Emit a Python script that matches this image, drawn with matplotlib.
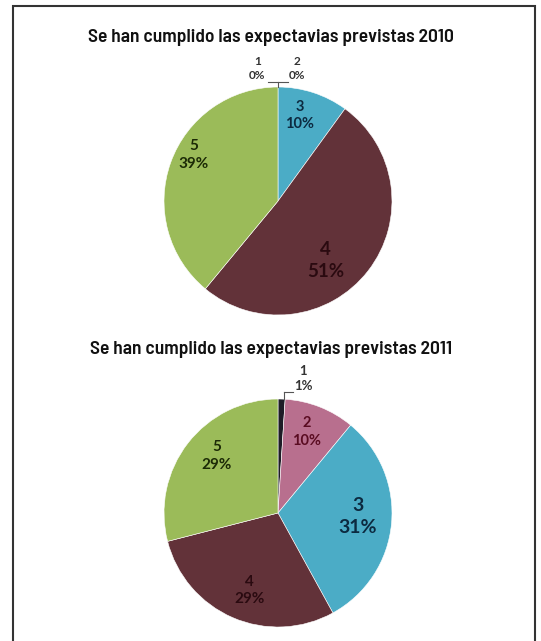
import matplotlib.pyplot as plt
from matplotlib.patches import Rectangle
from matplotlib.lines import Line2D

# datos
cats = ['1', '2', '3', '4', '5']
vals_2010 = [0, 0, 10, 51, 39]
vals_2011 = [1, 10, 31, 29, 29]
titles = ['Se han cumplido las expectavias previstas 2010',
          'Se han cumplido las expectavias previstas 2011']

colors = ['#1d1c26', '#b86f8e', '#4bacc6', '#623239', '#9bbb59']
txt_2010 = ['#333333', '#333333', '#0c2a40', '#2a0a10', '#1c2a06']
txt_2011 = ['#333333', '#5a0c22', '#0c2a40', '#2a0a10', '#1c2a06']

W, H = 541, 641
fig = plt.figure(figsize=(W / 100, H / 100), dpi=100)

def px_axes(cx, cy, r):
    return fig.add_axes([(cx - r) / W, (H - cy - r) / H, 2 * r / W, 2 * r / H])

def draw_pie(ax, vals, lab_pos, lab_size, tcol):
    ax.pie(vals, colors=colors, startangle=90, counterclock=False,
           wedgeprops=dict(edgecolor='white', linewidth=0.4))
    ax.set_xlim(-1, 1)
    ax.set_ylim(-1, 1)
    for i, v in enumerate(vals):
        x, y = lab_pos[i]
        ax.text(x, y, '%s\n%d%%' % (cats[i], v), ha='center', va='center',
                fontsize=lab_size[i], fontweight='bold', color=tcol[i],
                family=['Lato', 'DejaVu Sans'], linespacing=1.35, clip_on=False)

# 2010
ax1 = px_axes(278, 201, 114)
draw_pie(ax1, vals_2010,
         [(-0.18, 1.16), (0.17, 1.16), (0.19, 0.75), (0.42, -0.52), (-0.74, 0.40)],
         [8.5, 8.5, 10.5, 13.5, 11], txt_2010)
ax1.add_line(Line2D([-0.09, 0.09], [1.04, 1.04], color='#555555', lw=0.8, clip_on=False))
ax1.add_line(Line2D([0, 0], [1.04, 1.0], color='#555555', lw=0.8, clip_on=False))

# 2011
ax2 = px_axes(278, 513, 114)
draw_pie(ax2, vals_2011,
         [(0.22, 1.18), (0.25, 0.71), (0.70, -0.03), (-0.25, -0.68), (-0.54, 0.50)],
         [9.5, 10.5, 14, 11, 11], txt_2011)
ax2.add_line(Line2D([0.05, 0.13], [1.06, 1.06], color='#555555', lw=0.8, clip_on=False))
ax2.add_line(Line2D([0.05, 0.05], [1.06, 1.0], color='#555555', lw=0.8, clip_on=False))

for t, y in zip(titles, [38, 350]):
    fig.text(271 / W, 1 - y / H, t, ha='center', va='center', fontsize=14,
             fontweight=600, color='#111111',
             family=['Barlow Semi Condensed', 'DejaVu Sans'])

# marco
fig.add_artist(Rectangle((13 / W, -0.05), (535 - 13) / W, 1.05 - 6 / H,
                         transform=fig.transFigure, fill=False,
                         edgecolor='#333333', lw=1.5))

fig.savefig('out.png', dpi=100)
